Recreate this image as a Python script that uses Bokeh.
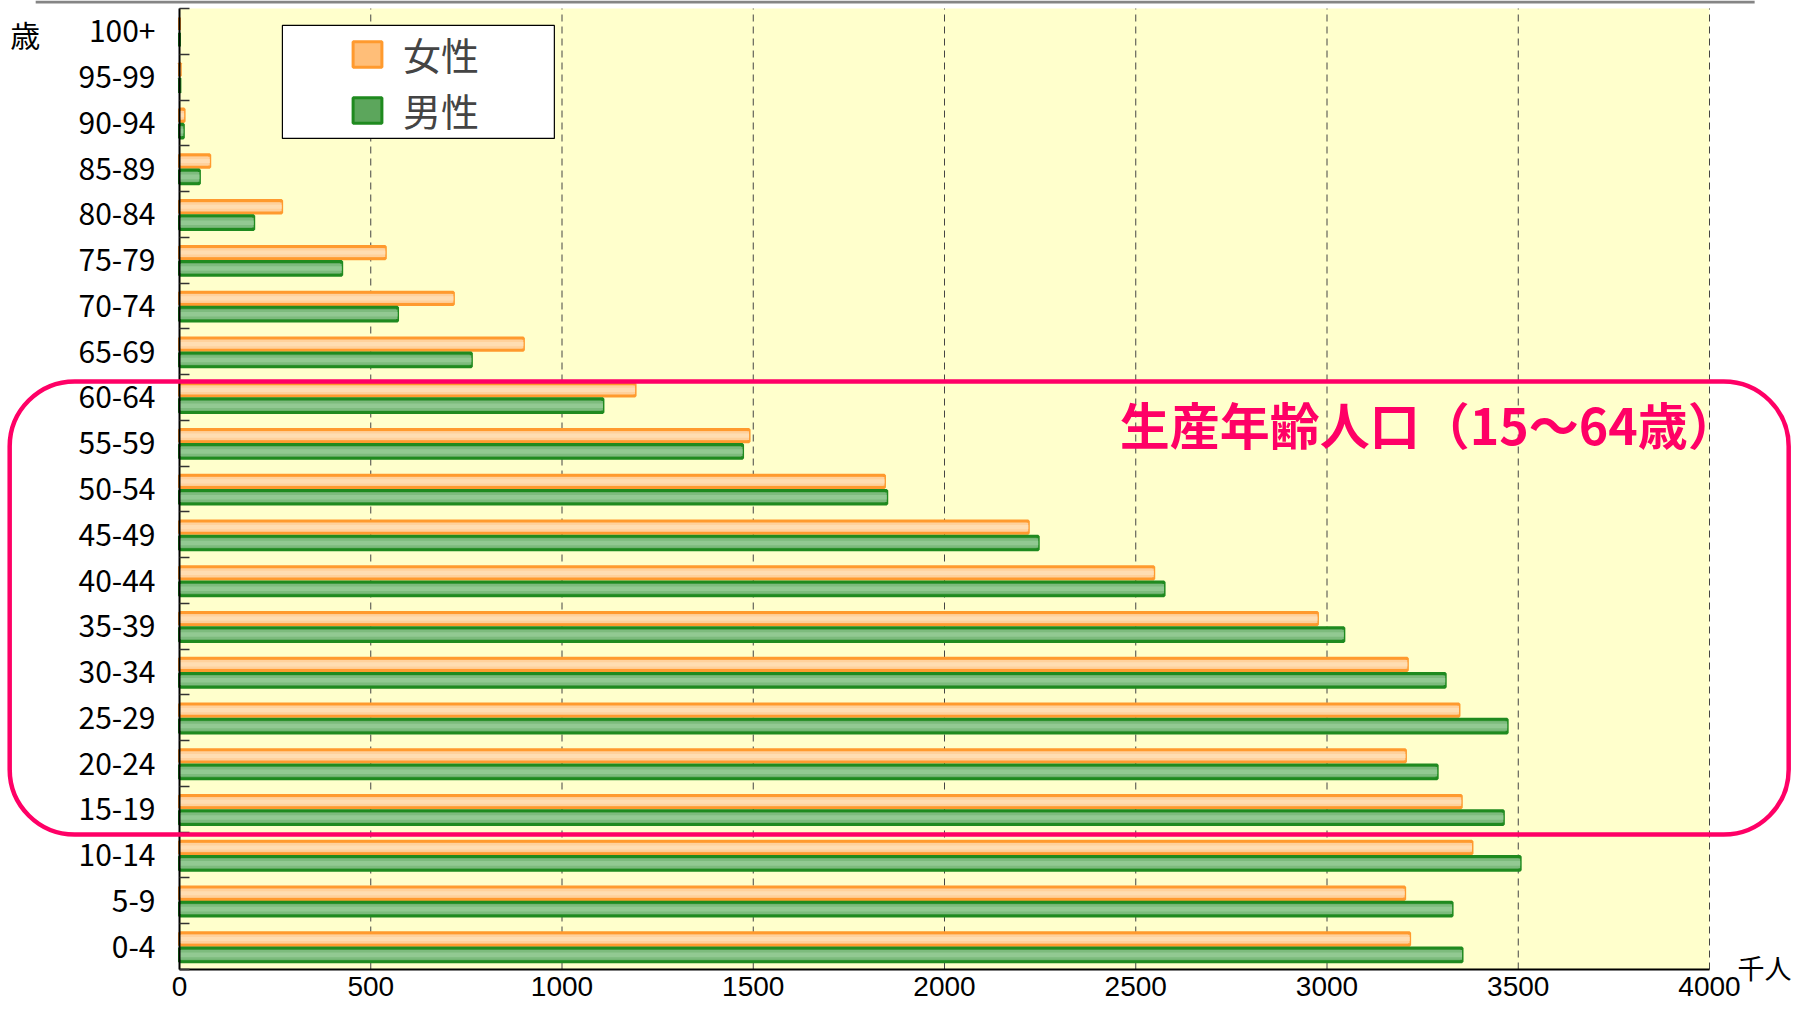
import numpy as np
from bokeh.plotting import figure
from bokeh.models import (Range1d, FixedTicker, Legend, LegendItem, BoxAnnotation,
                          Label, ColumnDataSource, LinearAxis)
from bokeh.embed import file_html
from bokeh.resources import INLINE

# ---------------- data ----------------
age_groups = ["0-4", "5-9", "10-14", "15-19", "20-24", "25-29", "30-34", "35-39",
              "40-44", "45-49", "50-54", "55-59", "60-64", "65-69", "70-74", "75-79",
              "80-84", "85-89", "90-94", "95-99", "100+"]
female = [3216, 3203, 3379, 3351, 3205, 3345, 3210, 2975, 2547, 2219, 1843, 1489,
          1191, 899, 716, 538, 267, 79, 12, 2, 0]
male = [3353, 3327, 3505, 3461, 3288, 3471, 3309, 3044, 2574, 2245, 1849, 1472,
        1107, 763, 570, 424, 194, 52, 10, 1, 0]
x_ticks = [0, 500, 1000, 1500, 2000, 2500, 3000, 3500, 4000]
legend_labels = ["女性", "男性"]
annotation_text = "生産年齢人口（15～64歳）"

FONT = "Noto Sans CJK JP"
PINK = "#FF0066"
N = len(age_groups)
XMAX = x_ticks[-1]

pos = np.arange(N)
src = ColumnDataSource(dict(age=age_groups, female=female, male=male,
                            yf=pos + 0.667, ym=pos + 0.32))

# frame covers the whole canvas; data area 0..4000 x 0..21 is placed inside it
p = figure(x_range=Range1d(-468, 4219.6), y_range=Range1d(-0.874, 21.175),
           width=1793, height=1009, min_border=0,
           x_axis_type=None, y_axis_type=None,
           output_backend="svg", toolbar_location=None)
p.background_fill_color = "white"
p.border_fill_color = "white"
p.outline_line_color = None

# plot-area background
p.add_layout(BoxAnnotation(left=0, right=XMAX, bottom=0, top=N, level="underlay",
                           fill_color="#FFFFCC", fill_alpha=1.0, line_alpha=0))
# thin grey rule along the very top
p.add_layout(BoxAnnotation(left=-376, right=4118, bottom=21.11, top=21.175,
                           level="underlay", fill_color="#858585", fill_alpha=1.0,
                           line_alpha=0))

# dashed vertical grid lines
p.segment(x0=x_ticks, x1=x_ticks, y0=[0] * len(x_ticks), y1=[N] * len(x_ticks),
          line_color="#444444", line_dash="7 5", line_width=1)

# gradient-like bars (base with edge line, lighter inner layers)
f_base = p.hbar(y="yf", left=0, right="female", height=0.27, source=src,
                fill_color="#FFBE78", line_color="#FF9A2E", line_width=3)
p.hbar(y="yf", left=0, right="female", height=0.19, source=src,
       fill_color="#FFD19C", line_color=None)
p.hbar(y="yf", left=0, right="female", height=0.09, source=src,
       fill_color="#FFDDB2", line_color=None)
m_base = p.hbar(y="ym", left=0, right="male", height=0.30, source=src,
                fill_color="#5CA65C", line_color="#1F8A1F", line_width=3)
p.hbar(y="ym", left=0, right="male", height=0.21, source=src,
       fill_color="#7DBB7D", line_color=None)
p.hbar(y="ym", left=0, right="male", height=0.10, source=src,
       fill_color="#92C992", line_color=None)

# axes
xa = LinearAxis(fixed_location=0, bounds=(0, XMAX), ticker=FixedTicker(ticks=x_ticks))
xa.major_tick_in = 0
xa.major_tick_out = 0
xa.minor_tick_line_color = None
xa.axis_line_color = "black"
xa.axis_line_width = 2
xa.major_label_standoff = 7
xa.major_label_text_font = "Liberation Sans"
xa.major_label_text_font_size = "28px"
xa.major_label_text_color = "black"
p.add_layout(xa, "below")

ya = LinearAxis(fixed_location=0, bounds=(0, N),
                ticker=FixedTicker(ticks=[float(i) + 0.5 for i in pos],
                                   minor_ticks=[float(i) for i in range(N + 1)]))
ya.major_label_overrides = {float(i) + 0.5: lab for i, lab in zip(pos, age_groups)}
ya.major_tick_line_color = None
ya.major_tick_in = 0
ya.major_tick_out = 0
ya.minor_tick_in = 10
ya.minor_tick_out = 0
ya.minor_tick_line_color = "#333333"
ya.minor_tick_line_width = 1.5
ya.axis_line_color = "black"
ya.axis_line_width = 2
ya.major_label_standoff = 24
ya.major_label_text_font = FONT
ya.major_label_text_font_size = "30px"
ya.major_label_text_color = "black"
p.add_layout(ya, "left")

# legend box + one legend per item (for exact row spacing)
p.add_layout(BoxAnnotation(left=269, right=980, top=20.63, bottom=18.16,
                           fill_color="white", fill_alpha=1.0,
                           line_color="black", line_alpha=1.0, line_width=1.2))
for lab, rend, loc_y in [(legend_labels[0], f_base, 928), (legend_labels[1], m_base, 872)]:
    p.add_layout(Legend(items=[LegendItem(label=lab, renderers=[rend])],
                        location=(349, loc_y), padding=0, spacing=0,
                        glyph_width=36, glyph_height=32, label_standoff=18,
                        label_text_font=FONT, label_text_font_size="38px",
                        border_line_color=None, background_fill_alpha=0))

# rounded pink box around working-age population
p.add_layout(BoxAnnotation(left=-444, right=4207, bottom=2.95, top=12.85,
                           fill_alpha=0, line_color=PINK, line_alpha=1.0, line_width=4.5,
                           border_radius=65))
p.add_layout(Label(x=2458, y=11.95, text=annotation_text, text_font=FONT,
                   text_font_style="bold", text_color=PINK, text_font_size="50px",
                   text_align="left", text_baseline="middle"))

# unit labels
p.add_layout(Label(x=-403, y=20.45, text="歳", text_font=FONT, text_font_size="30px",
                   text_align="center", text_baseline="middle", text_color="black"))
p.add_layout(Label(x=4144, y=0.05, text="千人", text_font=FONT, text_font_size="27px",
                   text_align="center", text_baseline="middle", text_color="black"))

open("out.html", "w").write(file_html(p, INLINE))
